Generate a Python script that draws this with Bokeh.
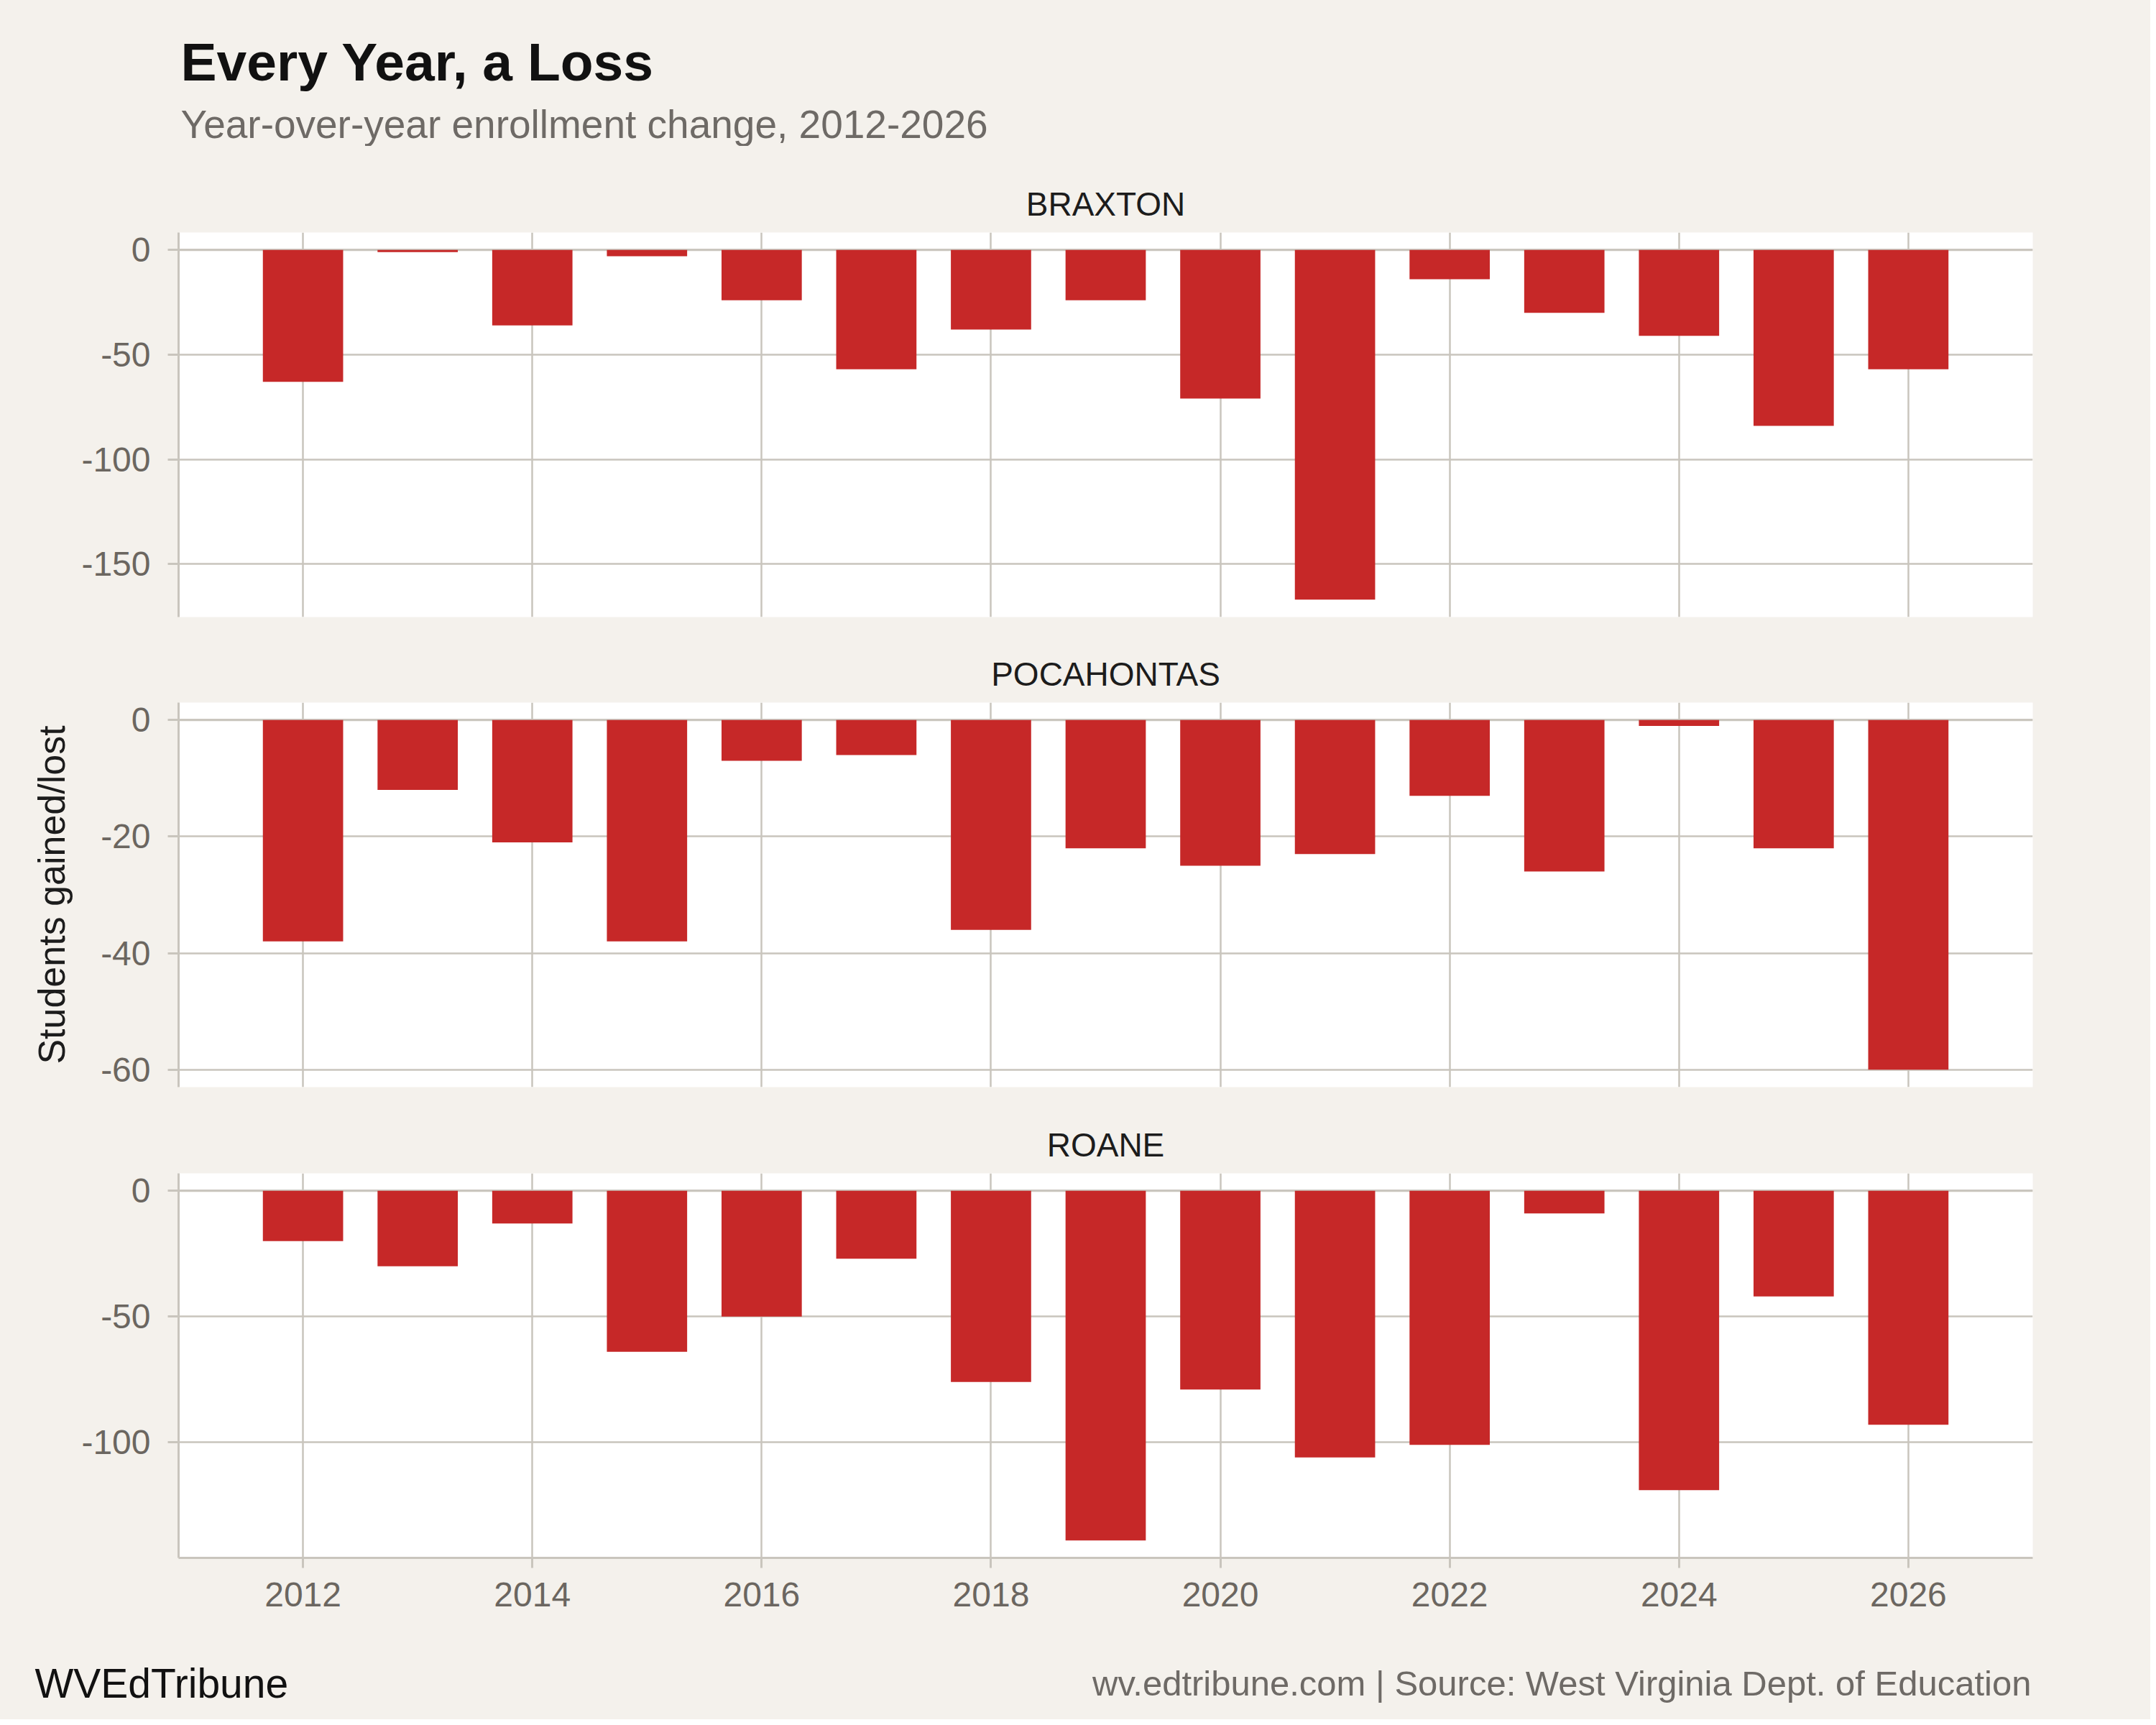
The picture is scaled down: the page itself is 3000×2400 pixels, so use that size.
from bokeh.core.properties import value
from bokeh.embed import file_html
from bokeh.layouts import column
from bokeh.models import FixedTicker, NumeralTickFormatter, Range1d, Span
from bokeh.plotting import figure
from bokeh.resources import INLINE

# data
years = list(range(2012, 2027))
braxton = [-63, -1, -36, -3, -24, -57, -38, -24, -71, -167, -14, -30, -41, -84, -57]
pocahontas = [-38, -12, -21, -38, -7, -6, -36, -22, -25, -23, -13, -26, -1, -22, -60]
roane = [-20, -30, -13, -64, -50, -27, -76, -139, -79, -106, -101, -9, -119, -42, -93]
counties = ["BRAXTON", "POCAHONTAS", "ROANE"]
series = [braxton, pocahontas, roane]
y_ticks = [[-150, -100, -50, 0], [-60, -40, -20, 0], [-100, -50, 0]]
x_ticks = list(range(2012, 2027, 2))

title = "Every Year, a Loss"
subtitle = "Year-over-year enrollment change, 2012-2026"
y_label = "Students gained/lost"
brand = "WVEdTribune"
source_note = "wv.edtribune.com | Source: West Virginia Dept. of Education"

FONT = "Liberation Sans"
BG = "#f4f1ec"
GRID = "#c9c5bd"
BAR = "#c62828"
TICK = "#6b6660"
INK = "#1c1c1c"
W = 3000

x_range = Range1d(years[0] - 1.085, years[-1] + 1.085)


def text_strip(height):
    f = figure(width=W, height=height, x_range=Range1d(0, W), y_range=Range1d(height, 0),
               x_axis_type=None, y_axis_type=None, min_border=0, title=None,
               frame_align=False,
               output_backend="svg", toolbar_location=None,
               background_fill_color=BG, border_fill_color=BG, outline_line_color=None)
    return f


def panel(name, vals, ticks, top_gap, bottom_gap, last, with_label):
    lo = min(vals)
    pad = -lo * 0.05
    p = figure(frame_width=2580, frame_height=535, x_range=x_range,
               y_range=Range1d(lo - pad, pad),
               min_border_left=256, min_border_right=164, min_border_top=top_gap,
               min_border_bottom=bottom_gap,
               frame_align=False,
               output_backend="svg", toolbar_location=None,
               background_fill_color="white", border_fill_color=BG, outline_line_color=None)
    p.title.text = name
    p.title.align = "center"
    p.title.text_font = FONT
    p.title.text_font_size = "46px"
    p.title.text_font_style = "normal"
    p.title.text_color = INK
    p.title.standoff = 27

    p.add_layout(Span(location=0, dimension="width", line_color=GRID, line_width=3, level="underlay"))
    p.vbar(x=years, top=vals, bottom=0, width=0.7, fill_color=BAR, line_color=None)

    p.xaxis.ticker = FixedTicker(ticks=x_ticks)
    p.yaxis.ticker = FixedTicker(ticks=ticks)
    p.yaxis.formatter = NumeralTickFormatter(format="0")
    for ax in (p.xaxis, p.yaxis):
        ax.axis_line_color = GRID
        ax.axis_line_width = 3
        ax.major_tick_line_color = GRID
        ax.major_tick_line_width = 3
        ax.major_tick_in = 0
        ax.minor_tick_line_color = None
        ax.major_label_text_font = FONT
        ax.major_label_text_font_size = "48px"
        ax.major_label_text_color = TICK
    p.yaxis.major_tick_out = 15
    p.yaxis.major_label_standoff = 24
    p.xaxis.major_tick_out = 14
    p.xaxis.major_label_standoff = 20
    if not last:
        p.xaxis.visible = False
    if with_label:
        p.yaxis.axis_label = y_label
        p.yaxis.axis_label_text_font = FONT
        p.yaxis.axis_label_text_font_size = "52px"
        p.yaxis.axis_label_text_font_style = "normal"
        p.yaxis.axis_label_text_color = INK
        p.yaxis.axis_label_standoff = 36

    p.xgrid.grid_line_color = GRID
    p.xgrid.grid_line_width = 2.5
    p.ygrid.grid_line_color = GRID
    p.ygrid.grid_line_width = 2.5
    return p


header = text_strip(211)
header.text(x=[259], y=[93], text=[title], text_font=value(FONT), text_font_style="bold",
            text_font_size="75px", text_color="#111111", text_baseline="alphabetic")
header.text(x=[259], y=[180], text=[subtitle], text_font=value(FONT),
            text_font_size="55px", text_color="#6e6a66", text_baseline="alphabetic")

gaps = [(120, 30), (89, 30), (90, 110)]
panels = [panel(n, v, t, g[0], g[1], i == 2, i == 1)
          for i, (n, v, t, g) in enumerate(zip(counties, series, y_ticks, gaps))]

footer = text_strip(115)
footer.text(x=[56], y=[64], text=[brand], text_font=value(FONT), text_font_size="57px",
            text_color="#111111", text_baseline="alphabetic")
footer.text(x=[2834], y=[64], text=[source_note], text_font=value(FONT), text_font_size="49px",
            text_color="#6e6a66", text_baseline="alphabetic", text_align="right")

# pull the layout over the page's 8px margin so the background runs edge to edge
p = column(header, *panels, footer, spacing=0,
           styles={"margin": "-8px", "background-color": BG})

open("out.html", "w").write(file_html(p, INLINE))
